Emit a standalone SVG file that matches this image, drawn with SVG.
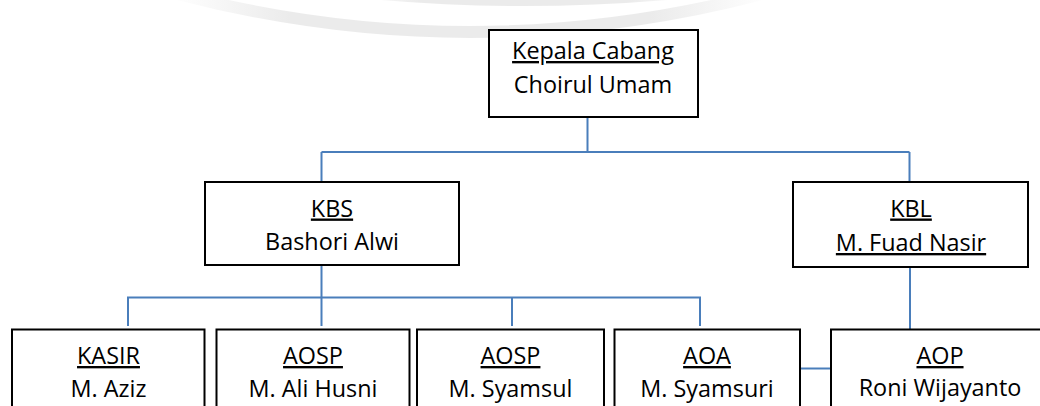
<svg xmlns="http://www.w3.org/2000/svg" width="1040" height="406" viewBox="0 0 1040 406">
<defs>
<style>
.box{fill:#fff;stroke:#000;stroke-width:2}
.t{font-family:"Open Sans","Liberation Sans",sans-serif;font-size:23.4px;fill:#000;text-anchor:middle}
.u{text-decoration:underline}
.c{fill:none;stroke:#4a7ebb;stroke-width:2}
.wm{fill:none;stroke:url(#wmg);stroke-linecap:round}
</style>
<linearGradient id="wmg" x1="0" y1="0" x2="1" y2="0">
<stop offset="0" stop-color="#ebebeb" stop-opacity="0"/>
<stop offset="0.2" stop-color="#ebebeb" stop-opacity="1"/>
<stop offset="0.8" stop-color="#ebebeb" stop-opacity="1"/>
<stop offset="1" stop-color="#ebebeb" stop-opacity="0"/>
</linearGradient>
</defs>
<rect width="1040" height="406" fill="#fff"/>
<g id="watermark">
<path class="wm" d="M 170 -8 Q 470 72 770 -8" stroke-width="12"/>
<path class="wm" d="M 350 -8 Q 520 10 700 -8" stroke-width="10"/>
</g>
<g id="connectors">
<path class="c" d="M587.5 117 V152 M321.5 152 H909.5 M321.5 152 V182 M909.5 152 V182"/>
<path class="c" d="M321.5 265 V326 M128 326 V297.5 H700 V326 M512 297.5 V326"/>
<path class="c" d="M910 267 V329"/>
<path class="c" d="M800 368.5 H831"/>
</g>
<g id="kepala">
<rect class="box" x="489" y="30" width="209" height="87"/>
<text class="t u" x="593" y="59">Kepala Cabang</text>
<text class="t" x="593" y="93">Choirul Umam</text>
</g>
<g id="kbs">
<rect class="box" x="205" y="182" width="254" height="83"/>
<text class="t u" x="332" y="216.5">KBS</text>
<text class="t" x="332" y="250">Bashori Alwi</text>
</g>
<g id="kbl">
<rect class="box" x="793" y="182" width="235" height="85"/>
<text class="t u" x="911" y="216.5">KBL</text>
<text class="t u" x="911" y="251">M. Fuad Nasir</text>
</g>
<g id="kasir">
<rect class="box" x="12" y="329.5" width="192.5" height="90"/>
<text class="t u" x="108.5" y="364">KASIR</text>
<text class="t" x="108.5" y="397">M. Aziz</text>
</g>
<g id="aosp1">
<rect class="box" x="216.5" y="329.5" width="193" height="90"/>
<text class="t u" x="313" y="364">AOSP</text>
<text class="t" x="313" y="397">M. Ali Husni</text>
</g>
<g id="aosp2">
<rect class="box" x="417" y="329.5" width="187" height="90"/>
<text class="t u" x="510.5" y="364">AOSP</text>
<text class="t" x="510.5" y="397">M. Syamsul</text>
</g>
<g id="aoa">
<rect class="box" x="614.5" y="329.5" width="185.5" height="90"/>
<text class="t u" x="707" y="364">AOA</text>
<text class="t" x="707" y="397">M. Syamsuri</text>
</g>
<g id="aop">
<rect class="box" x="831" y="329.5" width="218" height="90"/>
<text class="t u" x="940" y="364">AOP</text>
<text class="t" x="940" y="396">Roni Wijayanto</text>
</g>
</svg>
